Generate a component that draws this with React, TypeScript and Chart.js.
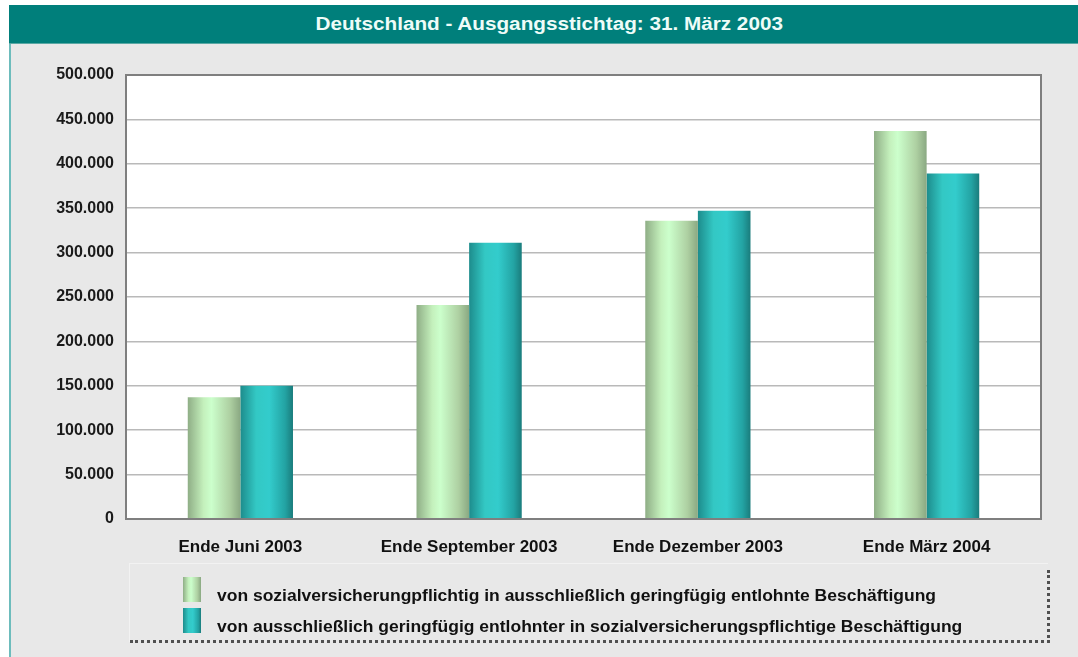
import React, { useEffect, useRef } from "react";
import { Chart, registerables } from "chart.js";

Chart.register(...registerables);

const titleText = "Deutschland - Ausgangsstichtag: 31. März 2003";
const categories = ["Ende Juni 2003", "Ende September 2003", "Ende Dezember 2003", "Ende März 2004"];
const seriesLabels = [
  "von sozialversicherungpflichtig in ausschließlich geringfügig entlohnte Beschäftigung",
  "von ausschließlich geringfügig entlohnter in sozialversicherungspflichtige Beschäftigung",
];
const greenValues = [137000, 241000, 336000, 437000];
const tealValues = [150000, 311000, 347000, 389000];
const yTickValues = [0, 50000, 100000, 150000, 200000, 250000, 300000, 350000, 400000, 450000, 500000];

const FONT = "'Liberation Sans', Arial, Helvetica, sans-serif";
const CAT_PCT = 0.46;

const greenStops: [number, string][] = [
  [0, "#8fae86"],
  [0.3, "#c4f0bc"],
  [0.45, "#ccffcc"],
  [0.8, "#aed0a2"],
  [1, "#8aa882"],
];
const tealStops: [number, string][] = [
  [0, "#1d8c8c"],
  [0.3, "#33c8c4"],
  [0.55, "#33cccc"],
  [0.85, "#23a3a3"],
  [1, "#1a7c7c"],
];

function fmt(v: number): string {
  return String(Math.round(v)).replace(/\B(?=(\d{3})+(?!\d))/g, ".");
}

function cssGradient(stops: [number, string][]) {
  return "linear-gradient(to right, " + stops.map(([p, c]) => `${c} ${p * 100}%`).join(", ") + ")";
}

function makeFill(stops: [number, string][], dsIndex: number) {
  return (ctx: any) => {
    const chart = ctx.chart;
    const xs = chart.scales && chart.scales.x;
    if (!xs || ctx.dataIndex === undefined) return stops[2][1];
    const center = xs.getPixelForValue(ctx.dataIndex);
    const catW = xs.width / categories.length;
    const barW = (catW * CAT_PCT) / 2;
    const left = dsIndex === 0 ? center - barW : center;
    if (!isFinite(left) || !isFinite(barW) || barW <= 0) return stops[2][1];
    const g = chart.ctx.createLinearGradient(left, 0, left + barW, 0);
    stops.forEach(([p, c]) => g.addColorStop(p, c));
    return g;
  };
}

const areaPlugin = {
  id: "areaPlugin",
  beforeDraw(chart: any) {
    const { ctx, chartArea } = chart;
    ctx.save();
    ctx.fillStyle = "#ffffff";
    ctx.fillRect(chartArea.left, chartArea.top, chartArea.right - chartArea.left, chartArea.bottom - chartArea.top);
    ctx.restore();
  },
  afterDraw(chart: any) {
    const { ctx, chartArea } = chart;
    ctx.save();
    ctx.strokeStyle = "#7f7f7f";
    ctx.lineWidth = 2;
    ctx.strokeRect(chartArea.left, chartArea.top, chartArea.right - chartArea.left, chartArea.bottom - chartArea.top);
    ctx.restore();
  },
};

export default function App() {
  const canvasRef = useRef<HTMLCanvasElement | null>(null);

  useEffect(() => {
    document.body.style.margin = "0";
    const canvas = canvasRef.current;
    if (!canvas) return;
    const chart = new Chart(canvas, {
      type: "bar",
      data: {
        labels: categories,
        datasets: [
          {
            label: seriesLabels[0],
            data: greenValues,
            backgroundColor: makeFill(greenStops, 0) as any,
            borderWidth: 0,
            categoryPercentage: CAT_PCT,
            barPercentage: 1,
          },
          {
            label: seriesLabels[1],
            data: tealValues,
            backgroundColor: makeFill(tealStops, 1) as any,
            borderWidth: 0,
            categoryPercentage: CAT_PCT,
            barPercentage: 1,
          },
        ],
      },
      options: {
        animation: false,
        responsive: false,
        maintainAspectRatio: false,
        events: [],
        layout: { padding: { top: 30, right: 37, left: 0, bottom: 0 } },
        plugins: {
          legend: { display: false },
          tooltip: { enabled: false },
          title: { display: false },
        },
        scales: {
          x: {
            grid: { display: false, drawTicks: false },
            border: { display: false },
            ticks: {
              color: "#111",
              padding: 18,
              maxRotation: 0,
              font: { family: FONT, size: 17, weight: "bold" },
            },
            afterFit(scale: any) {
              scale.height = 46;
            },
          },
          y: {
            min: 0,
            max: 500000,
            grid: { color: "#b9b9b9", lineWidth: 1.5, drawTicks: false },
            border: { display: false },
            ticks: {
              color: "#1a1a1a",
              padding: 12,
              font: { family: FONT, size: 16, weight: "bold" },
              callback: (v: any) => fmt(Number(v)),
            },
            afterBuildTicks(scale: any) {
              scale.ticks = yTickValues.map((v) => ({ value: v }));
            },
            afterFit(scale: any) {
              scale.width = 116;
            },
          },
        },
      },
      plugins: [areaPlugin],
    });
    chart.update();
    return () => chart.destroy();
  }, []);

  const swatches = [greenStops, tealStops];

  return (
    <div
      style={{
        position: "fixed",
        left: 0,
        top: 0,
        width: 1078,
        height: 657,
        background: "#ffffff",
        overflow: "hidden",
        fontFamily: FONT,
      }}
    >
      <div
        style={{
          position: "absolute",
          left: 9,
          top: 44,
          width: 1075,
          height: 620,
          background: "#e8e8e8",
          borderLeft: "2px solid #6dbcbc",
          boxSizing: "border-box",
        }}
      />
      <div
        style={{
          position: "absolute",
          left: 9,
          top: 5,
          width: 1081,
          height: 39,
          background: "#007f7b",
          borderBottom: "1px solid #5aa8a4",
          boxSizing: "border-box",
          color: "#eefcf8",
          fontWeight: "bold",
          fontSize: 18,
          lineHeight: "38px",
          textAlign: "center",
        }}
      >
        <span style={{ display: "inline-block", transform: "scaleX(1.15)", transformOrigin: "center" }}>
          {titleText}
        </span>
      </div>
      <canvas
        ref={canvasRef}
        width={1068}
        height={520}
        style={{ position: "absolute", left: 10, top: 45, width: 1068, height: 520 }}
      />
      <div
        style={{
          position: "absolute",
          left: 129,
          top: 563,
          width: 919,
          height: 79,
          borderTop: "1px solid #f2f2f2",
          borderLeft: "1px solid #f2f2f2",
          boxSizing: "border-box",
        }}
      />
      <div
        style={{
          position: "absolute",
          left: 130,
          top: 640,
          width: 920,
          height: 0,
          borderBottom: "3px dotted #505050",
        }}
      />
      <div
        style={{
          position: "absolute",
          left: 1047,
          top: 570,
          width: 0,
          height: 73,
          borderRight: "3px dotted #505050",
        }}
      />
      {seriesLabels.map((lab, i) => (
        <div
          key={i}
          style={{
            position: "absolute",
            left: 183,
            top: i === 0 ? 577 : 608,
            height: 25,
            display: "flex",
            alignItems: "flex-end",
            whiteSpace: "nowrap",
          }}
        >
          <div style={{ width: 18, height: 25, background: cssGradient(swatches[i]) }} />
          <span
            style={{
              marginLeft: 16,
              fontWeight: "bold",
              fontSize: 16,
              lineHeight: "18px",
              color: "#111",
              position: "relative",
              top: 3,
              display: "inline-block",
              transform: "scaleX(1.093)",
              transformOrigin: "left",
            }}
          >
            {lab}
          </span>
        </div>
      ))}
    </div>
  );
}
